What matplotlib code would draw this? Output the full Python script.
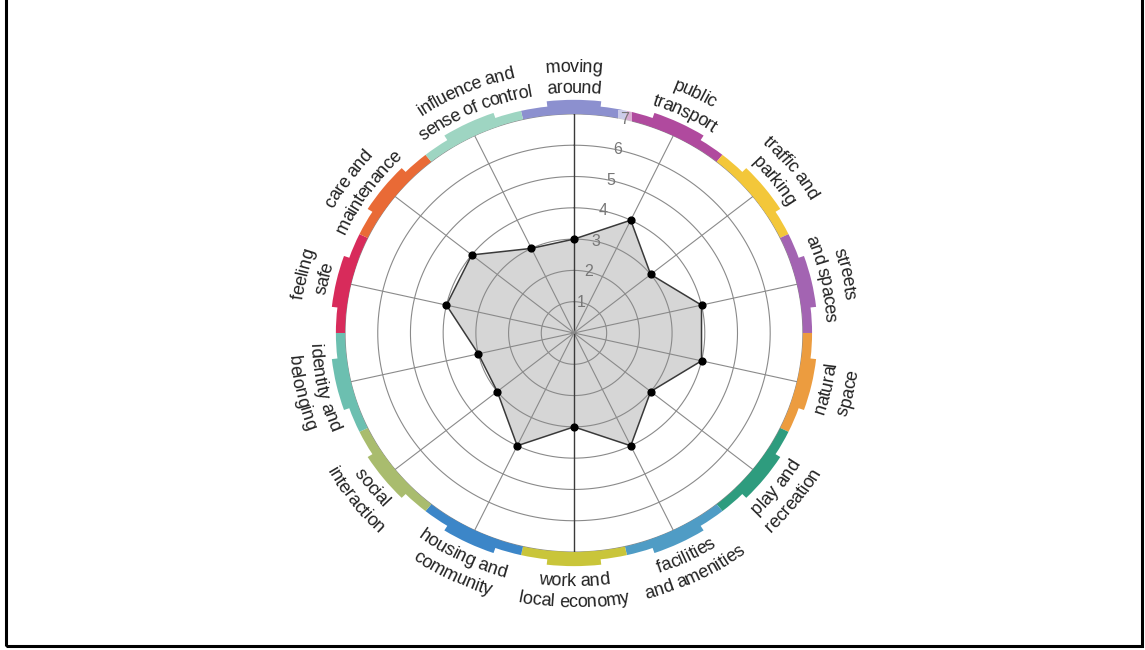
import numpy as np
import matplotlib.pyplot as plt
from matplotlib.patches import Wedge, Rectangle

plt.rcParams.update({
    'font.family': ['Liberation Sans', 'DejaVu Sans'],
    'text.color': '#222',
})

categories = ['moving\naround', 'public\ntransport', 'traffic and\nparking',
              'streets\nand spaces', 'natural\nspace', 'play and\nrecreation',
              'facilities\nand amenities', 'work and\nlocal economy',
              'housing and\ncommunity', 'social\ninteraction',
              'identity and\nbelonging', 'feeling\nsafe',
              'care and\nmaintenance', 'influence and\nsense of control']
scores = [3, 4, 3, 4, 4, 3, 4, 3, 4, 3, 3, 4, 4, 3]
ring_ticks = [1, 2, 3, 4, 5, 6, 7]
seg_colors = ['#8C90CF', '#B04A9E', '#F3C73A', '#A364B2', '#EC9C3F',
              '#2E9C7E', '#4F9CC5', '#C9C53A', '#3C86C8', '#A9BC6E',
              '#6CBFB0', '#D82B5B', '#E96A36', '#9ED5C2']
# small nudges (degrees) so that the two crowded labels don't collide
label_shift = [0, 0, 0, 0, 0, 0, 0, 0, 0, 0, 0, 0, -3.0, 2.5]

LABEL_FS = 13
LABEL_R = 8.22
LINE_GAP = 0.34
TRACKING = 0.96


def xy(r, a):
    # a: compass degrees, clockwise from top
    rad = np.radians(a)
    return r * np.sin(rad), r * np.cos(rad)


fig = plt.figure(figsize=(11.45, 6.5), dpi=100)
ax = fig.add_axes([0, 0, 1, 1])
ax.set_xlim(-17.55, 17.46)
ax.set_ylim(-10.13, 10.64)
ax.axis('off')
renderer = fig.canvas.get_renderer()

# pixels per data unit in x and y
sx = fig.bbox.width / np.diff(ax.get_xlim())[0]
sy = fig.bbox.height / np.diff(ax.get_ylim())[0]

n = len(categories)
step = 360 / n
angles = np.arange(n) * step
rmax = ring_ticks[-1]

# score polygon fill (under the grid)
px, py = xy(np.array(scores, dtype=float), angles)
ax.fill(px, py, color='#d6d6d6', zorder=1, lw=0)

# rings
t = np.linspace(0, 360, 400)
for r in ring_ticks:
    ax.plot(*xy(r, t), color='#8a8a8a', lw=0.8, zorder=2)

# spokes
for a in angles:
    dark = abs(a) < 1e-6 or abs(a - 180) < 1e-6
    ax.plot(*xy(np.array([0, rmax]), a), color='#3a3a3a' if dark else '#8a8a8a',
            lw=1.0 if dark else 0.8, zorder=2)

# outline + markers
ax.plot(np.append(px, px[0]), np.append(py, py[0]), color='#3a3a3a', lw=1.1, zorder=3)
ax.scatter(px, py, s=24, color='black', zorder=4)

# coloured band around the outside
for a, c in zip(angles, seg_colors):
    th = 90 - a
    ax.add_patch(Wedge((0, 0), rmax + 0.28, th - step / 2, th + step / 2,
                       width=0.28, color=c, lw=0, zorder=5))
    ax.add_patch(Wedge((0, 0), rmax + 0.45, th - step / 4, th + step / 4,
                       width=0.45, color=c, lw=0, zorder=5))

# radial tick labels
for r in ring_ticks:
    lx, ly = xy(r, step / 2)
    kw = {}
    if r == rmax:
        kw['bbox'] = dict(boxstyle='square,pad=0.15', fc='white', ec='none', alpha=0.55)
    ax.text(lx, ly, str(r), color='#777', fontsize=11.5, ha='center', va='center',
            zorder=6, **kw)


def text_width(s):
    if not s:
        return 0.0
    tt = ax.text(0, 0, s, fontsize=LABEL_FS)
    w = tt.get_window_extent(renderer).width
    tt.remove()
    return w * TRACKING


def curved_text(s, a, r, top):
    # place characters one by one along the circle
    total = text_width(s)
    rad = np.radians(a)
    px_per_rad = r * np.hypot(sx * np.cos(rad), sy * np.sin(rad))
    for i, ch in enumerate(s):
        if ch == ' ':
            continue
        pos = text_width(s[:i]) + text_width(ch) / 2 - total / 2
        d = np.degrees(pos / px_per_rad)
        ac = a + d if top else a - d
        rot = -ac if top else 180 - ac
        cx, cy = xy(r, ac)
        ax.text(cx, cy, ch, rotation=rot, rotation_mode='anchor', ha='center',
                va='center_baseline', fontsize=LABEL_FS, color='#222')


# category labels, curved along the rim
for a, lab, sh in zip(angles, categories, label_shift):
    aa = a if a <= 180 else a - 360
    top = abs(aa) <= 90
    lines = lab.split('\n')
    if top:
        radii = [LABEL_R + LINE_GAP, LABEL_R - LINE_GAP]
    else:
        radii = [LABEL_R - LINE_GAP, LABEL_R + LINE_GAP]
    for line, r in zip(lines, radii):
        curved_text(line, a + sh, r, top)

# outer frame
fig.add_artist(Rectangle((5.5 / 1145, 4 / 650), 1136 / 1145, 1.0,
                         transform=fig.transFigure, fill=False,
                         edgecolor='black', lw=2.2))

fig.savefig('out.png', dpi=100, facecolor='white')
